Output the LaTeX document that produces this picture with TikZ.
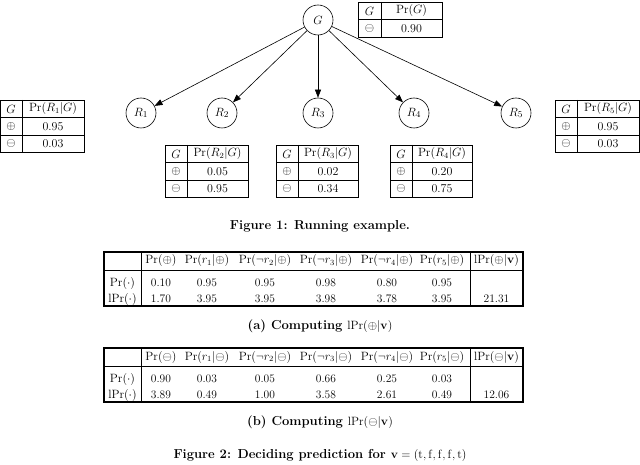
\documentclass[tikz,border=0pt]{standalone}
\usetikzlibrary{arrows.meta}
\begin{document}
\begin{tikzpicture}[x=1pt,y=-1pt,
  gn/.style={circle,draw,line width=0.6pt,minimum size=30pt,inner sep=0pt,font=\fontsize{12.5}{14}\selectfont},
  edge/.style={-{Triangle[length=8pt,width=6pt]},line width=0.6pt},
  tl/.style={line width=0.9pt},
  cell/.style={inner sep=0pt,font=\fontsize{12}{14}\selectfont},
  bcell/.style={inner sep=0pt,font=\fontsize{11.5}{14}\selectfont},
  captxt/.style={inner sep=0pt,font=\fontsize{13}{15}\selectfont\bfseries}]
\useasboundingbox (0,0) rectangle (640,465);
% small probability tables: name, xleft, ytop, xdiv, xright, header, v1, v2
\newcommand\probtab[8]{%
  \draw[tl] (#2,#3) rectangle (#5,#3+52);
  \draw[tl] (#4,#3) -- (#4,#3+52);
  \draw[tl] (#2,#3+17.5) -- (#5,#3+17.5);
  \draw[tl] (#2,#3+35) -- (#5,#3+35);
  \node[cell] (#1-g) at ({(#2+#4)/2},#3+9) {$G$};
  \node[cell] (#1-h) at ({(#4+#5)/2},#3+9) {#6};
  \node[cell] (#1-p) at ({(#2+#4)/2},#3+26.5) {$\oplus$};
  \node[cell] (#1-pv) at ({(#4+#5)/2},#3+26.5) {#7};
  \node[cell] (#1-m) at ({(#2+#4)/2},#3+43.5) {$\ominus$};
  \node[cell] (#1-mv) at ({(#4+#5)/2},#3+43.5) {#8};}
% Bayesian network
\node[gn] (G) at (318,20) {$G$};
\node[gn] (R1) at (141,113) {$R_1$};
\node[gn] (R2) at (222,113) {$R_2$};
\node[gn] (R3) at (318,113) {$R_3$};
\node[gn] (R4) at (414,113) {$R_4$};
\node[gn] (R5) at (516,113) {$R_5$};
\foreach \r in {R1,R2,R3,R4,R5} \draw[edge] (G) -- (\r);
% G table
\draw[tl] (358,2) rectangle (442,37);
\draw[tl] (381,2) -- (381,37);
\draw[tl] (358,19.5) -- (442,19.5);
\node[cell] (tg-g) at (369.5,11) {$G$};
\node[cell] (tg-h) at (411.5,11) {$\Pr(G)$};
\node[cell] (tg-m) at (369.5,28.5) {$\ominus$};
\node[cell] (tg-mv) at (411.5,28.5) {0.90};
\probtab{t1}{0}{100}{22}{84}{$\Pr(R_1|G)$}{0.95}{0.03}
\probtab{t2}{165}{145}{187}{248}{$\Pr(R_2|G)$}{0.05}{0.95}
\probtab{t3}{276}{145}{298}{358}{$\Pr(R_3|G)$}{0.02}{0.34}
\probtab{t4}{390}{145}{412}{472}{$\Pr(R_4|G)$}{0.20}{0.75}
\probtab{t5}{555}{100}{577}{639}{$\Pr(R_5|G)$}{0.95}{0.03}
\node[captxt] (cap1) at (320,226) {Figure 1: Running example.};
% big tables: name, ytop, sign, value/x list row 1, row 2, total
\newcommand\bigtab[6]{%
  \draw[line width=1.1pt] (104,#2) rectangle (523,#2+54);
  \draw[tl] (141,#2) -- (141,#2+54);
  \draw[tl] (470,#2) -- (470,#2+54);
  \draw[tl] (104,#2+18) -- (523,#2+18);
  \node[bcell] (#1-h1) at (161,#2+9) {$\Pr(#3)$};
  \node[bcell] (#1-h2) at (207,#2+9) {$\Pr(r_1|#3)$};
  \node[bcell] (#1-h3) at (265,#2+9) {$\Pr(\neg r_2|#3)$};
  \node[bcell] (#1-h4) at (326,#2+9) {$\Pr(\neg r_3|#3)$};
  \node[bcell] (#1-h5) at (387,#2+9) {$\Pr(\neg r_4|#3)$};
  \node[bcell] (#1-h6) at (442,#2+9) {$\Pr(r_5|#3)$};
  \node[bcell] (#1-h7) at (496.5,#2+9) {$\mathrm{lPr}(#3|\mathbf{v})$};
  \node[bcell] (#1-r1) at (122.5,#2+31) {$\Pr(\cdot)$};
  \node[bcell] (#1-r2) at (122.5,#2+47) {$\mathrm{lPr}(\cdot)$};
  \foreach \v/\x [count=\i] in {#4}
    \node[bcell] (#1-a\i) at (\x,#2+31) {\v};
  \foreach \v/\x [count=\i] in {#5}
    \node[bcell] (#1-b\i) at (\x,#2+47) {\v};
  \node[bcell] (#1-t) at (496.5,#2+47) {#6};}
\bigtab{ta}{252}{\oplus}{0.10/161,0.95/207,0.95/265,0.98/326,0.80/387,0.95/442}{1.70/161,3.95/207,3.95/265,3.98/326,3.78/387,3.95/442}{21.31}
\node[captxt] (capa) at (320,326) {(a) Computing \mdseries$\mathrm{lPr}(\oplus|\mathbf{v})$};
\bigtab{tb}{348}{\ominus}{0.90/161,0.03/207,0.05/265,0.66/326,0.25/387,0.03/442}{3.89/161,0.49/207,1.00/265,3.58/326,2.61/387,0.49/442}{12.06}
\node[captxt] (capb) at (320,422) {(b) Computing \mdseries$\mathrm{lPr}(\ominus|\mathbf{v})$};
\node[captxt] (cap2) at (320,455) {Figure 2: Deciding prediction for \mdseries$\mathbf{v}=(\mathrm{t},\mathrm{f},\mathrm{f},\mathrm{f},\mathrm{t})$};
\end{tikzpicture}
\end{document}
